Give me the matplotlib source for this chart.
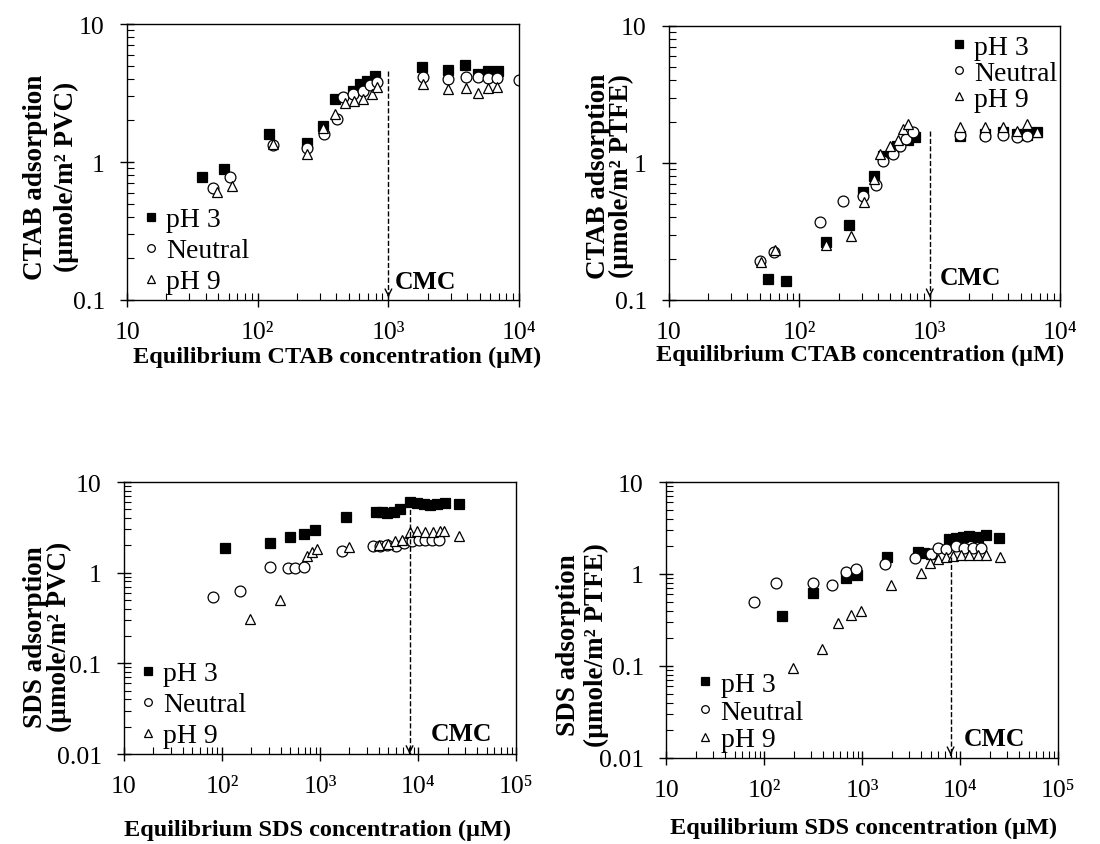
import matplotlib
matplotlib.use("Agg")
import matplotlib.pyplot as plt
from matplotlib.lines import Line2D
from matplotlib.ticker import LogLocator, NullFormatter

plt.rcParams['font.family'] = ['Liberation Serif', 'DejaVu Serif']

# ---------------- Data ----------------
# Panel A: CTAB on PVC
a_ph3_x = [37.7, 55, 123, 237, 314, 390, 538, 606, 682, 790, 1800, 2845, 3856, 4875, 5820, 6930]
a_ph3_y = [0.78, 0.89, 1.6, 1.37, 1.83, 2.86, 3.29, 3.67, 3.88, 4.22, 4.85, 4.64, 5.04, 4.35, 4.59, 4.59]
a_neu_x = [45.7, 61.4, 132, 237, 321, 402, 452, 538, 642, 723, 813, 1829, 2845, 3900, 4875, 5820, 6830, 10000]
a_neu_y = [0.644, 0.775, 1.33, 1.26, 1.6, 2.05, 2.94, 3.11, 3.29, 3.61, 3.78, 4.11, 4.0, 4.11, 4.11, 4.06, 4.06, 3.95]
a_ph9_x = [48.6, 64, 130, 240, 314, 390, 465, 548, 642, 745, 813, 1829, 2845, 3900, 4875, 5820, 6830]
a_ph9_y = [0.61, 0.67, 1.35, 1.14, 1.75, 2.23, 2.68, 2.78, 2.86, 3.11, 3.47, 3.67, 3.38, 3.44, 3.15, 3.44, 3.47]

# Panel B: CTAB on PTFE
b_ph3_x = [57.8, 78.5, 160, 240, 306, 374, 441, 560, 687, 773, 1710, 2660, 3680, 4660, 5560, 6640]
b_ph3_y = [0.142, 0.138, 0.264, 0.352, 0.61, 0.81, 1.13, 1.34, 1.46, 1.54, 1.58, 1.62, 1.67, 1.62, 1.6, 1.68]
b_neu_x = [49.9, 64, 144, 218, 306, 388, 441, 527, 593, 660, 750, 1710, 2660, 3680, 4660, 5560]
b_neu_y = [0.194, 0.223, 0.373, 0.525, 0.577, 0.69, 1.04, 1.16, 1.34, 1.50, 1.67, 1.6, 1.58, 1.6, 1.55, 1.58]
b_ph9_x = [50.4, 65, 160, 248, 314, 377, 416, 496, 575, 629, 687, 1710, 2660, 3680, 4660, 5560, 6640]
b_ph9_y = [0.19, 0.233, 0.252, 0.292, 0.516, 0.764, 1.16, 1.34, 1.46, 1.77, 1.93, 1.82, 1.82, 1.82, 1.7, 1.93, 1.67]

# Panel C: SDS on PVC
c_ph3_x = [108, 310, 497, 690, 894, 1850, 3750, 4290, 4820, 5640, 6590, 8340, 9770, 11400, 13400, 15600, 19000, 26000]
c_ph3_y = [1.86, 2.12, 2.49, 2.67, 2.98, 4.08, 4.71, 4.63, 4.55, 4.71, 5.04, 5.97, 5.82, 5.72, 5.57, 5.72, 5.86, 5.72]
c_neu_x = [80.5, 151, 310, 477, 558, 679, 1670, 3470, 4120, 4820, 6000, 7130, 8680, 10150, 11900, 13900, 16300]
c_neu_y = [0.535, 0.634, 1.16, 1.12, 1.12, 1.15, 1.75, 1.96, 1.99, 2.02, 1.99, 2.12, 2.25, 2.31, 2.31, 2.31, 2.31]
c_ph9_x = [194, 392, 745, 838, 942, 1955, 3960, 4900, 5870, 6860, 8340, 9770, 11900, 14100, 16900, 18300, 26000]
c_ph9_y = [0.309, 0.50, 1.52, 1.68, 1.82, 1.91, 2.02, 2.07, 2.25, 2.31, 2.83, 2.90, 2.83, 2.83, 2.90, 2.86, 2.52]

# Panel D: SDS on PTFE
d_ph3_x = [153, 318, 679, 881, 1815, 3730, 4300, 5040, 7740, 9070, 10630, 12400, 15100, 18400, 25200]
d_ph3_y = [0.346, 0.627, 0.906, 0.98, 1.53, 1.73, 1.70, 1.66, 2.38, 2.46, 2.52, 2.59, 2.52, 2.63, 2.46]
d_neu_x = [78.3, 133, 318, 497, 679, 859, 1700, 3450, 5040, 5900, 7180, 9070, 11000, 13500, 16400]
d_neu_y = [0.497, 0.798, 0.798, 0.766, 1.05, 1.12, 1.29, 1.50, 1.66, 1.92, 1.88, 2.0, 1.92, 1.92, 1.92]
d_ph9_x = [196, 386, 571, 764, 968, 1960, 3980, 4950, 5980, 7180, 8400, 10200, 12400, 15100, 18400, 25600]
d_ph9_y = [0.095, 0.154, 0.296, 0.355, 0.392, 0.766, 1.03, 1.32, 1.47, 1.53, 1.57, 1.60, 1.62, 1.62, 1.62, 1.53]

series_labels = ["pH 3", "Neutral", "pH 9"]

ctab_xlabels = ['10', '10²', '10³', '10⁴']
sds_xlabels = ['10', '10²', '10³', '10⁴', '10⁵']

# ---------------- Figure ----------------
fig = plt.figure(figsize=(11, 8.45), dpi=100)

panels = [
    dict(rect=[0.1155, 0.6438, 0.3564, 0.3266],
         data=[(a_ph3_x, a_ph3_y), (a_neu_x, a_neu_y), (a_ph9_x, a_ph9_y)],
         xlim=(10, 1e4), ylim=(0.1, 10),
         xticks=[10, 1e2, 1e3, 1e4], xlabels=ctab_xlabels,
         yticks=[0.1, 1, 10], ylabels=['0.1', '1', '10'],
         xlabel='Equilibrium CTAB concentration (µM)',
         ylabel='CTAB adsorption\n(µmole/m² PVC)', yls=1.3,
         xlc=(0.536, -0.203), ylc=(-0.194, 0.449),
         cmc=1000, cmc_top=4.6, cmc_text=(1122, 0.137),
         lsp=0.2,
         leg=dict(loc='lower left', bbox_to_anchor=(0.0, -0.02))),
    dict(rect=[0.6082, 0.6438, 0.3555, 0.3243],
         data=[(b_ph3_x, b_ph3_y), (b_neu_x, b_neu_y), (b_ph9_x, b_ph9_y)],
         xlim=(10, 1e4), ylim=(0.1, 10),
         xticks=[10, 1e2, 1e3, 1e4], xlabels=ctab_xlabels,
         yticks=[0.1, 1, 10], ylabels=['0.1', '1', '10'],
         xlabel='Equilibrium CTAB concentration (µM)',
         ylabel='CTAB adsorption\n(µmole/m² PTFE)', yls=0.9,
         xlc=(0.488, -0.197), ylc=(-0.151, 0.456),
         cmc=1000, cmc_top=1.72, cmc_text=(1200, 0.147),
         lsp=0.02,
         leg=dict(loc='upper left', bbox_to_anchor=(0.68, 1.01))),
    dict(rect=[0.1127, 0.1065, 0.3564, 0.3219],
         data=[(c_ph3_x, c_ph3_y), (c_neu_x, c_neu_y), (c_ph9_x, c_ph9_y)],
         xlim=(10, 1e5), ylim=(0.01, 10),
         xticks=[10, 1e2, 1e3, 1e4, 1e5], xlabels=sds_xlabels,
         yticks=[0.01, 0.1, 1, 10], ylabels=['0.01', '0.1', '1', '10'],
         xlabel='Equilibrium SDS concentration (µM)',
         ylabel='SDS adsorption\n(µmole/m² PVC)', yls=0.95,
         xlc=(0.495, -0.276), ylc=(-0.195, 0.434),
         cmc=8200, cmc_top=6.0, cmc_text=(13400, 0.0167),
         lsp=0.2,
         leg=dict(loc='lower left', bbox_to_anchor=(0.0, -0.02))),
    dict(rect=[0.6055, 0.1018, 0.3564, 0.3266],
         data=[(d_ph3_x, d_ph3_y), (d_neu_x, d_neu_y), (d_ph9_x, d_ph9_y)],
         xlim=(10, 1e5), ylim=(0.01, 10),
         xticks=[10, 1e2, 1e3, 1e4, 1e5], xlabels=sds_xlabels,
         yticks=[0.01, 0.1, 1, 10], ylabels=['0.01', '0.1', '1', '10'],
         xlabel='Equilibrium SDS concentration (µM)',
         ylabel='SDS adsorption\n(µmole/m² PTFE)', yls=1.15,
         xlc=(0.505, -0.25), ylc=(-0.214, 0.413),
         cmc=8000, cmc_top=1.54, cmc_text=(11000, 0.0162),
         lsp=0.08,
         leg=dict(loc='lower left', bbox_to_anchor=(0.04, -0.02))),
]

styles = [
    dict(marker='s', mfc='black', mec='black'),
    dict(marker='o', mfc='white', mec='black'),
    dict(marker='^', mfc='white', mec='black'),
]

for p in panels:
    ax = fig.add_axes(p['rect'])
    for (xs, ys), st, lab in zip(p['data'], styles, series_labels):
        ax.plot(xs, ys, ls='none', marker=st['marker'], mfc=st['mfc'], mec=st['mec'],
                ms=7.8, mew=0.9, label=lab)
    ax.set_xscale('log')
    ax.set_yscale('log')
    ax.set_xlim(*p['xlim'])
    ax.set_ylim(*p['ylim'])
    ax.set_xticks(p['xticks'])
    ax.set_xticklabels(p['xlabels'])
    ax.set_yticks(p['yticks'])
    ax.set_yticklabels(p['ylabels'])
    ax.xaxis.set_minor_locator(LogLocator(base=10, subs=range(2, 10), numticks=20))
    ax.yaxis.set_minor_locator(LogLocator(base=10, subs=range(2, 10), numticks=20))
    ax.xaxis.set_minor_formatter(NullFormatter())
    ax.yaxis.set_minor_formatter(NullFormatter())
    ax.tick_params(which='major', direction='inout', length=10, width=1, labelsize=18.5,
                   top=False, right=False)
    ax.tick_params(axis='x', which='major', pad=10)
    ax.tick_params(axis='y', which='major', pad=11)
    ax.tick_params(which='minor', direction='in', length=5, width=0.8, top=False, right=False)
    for sp in ax.spines.values():
        sp.set_linewidth(1.0)

    ax.set_xlabel(p['xlabel'], fontsize=17.5, fontweight='bold')
    ax.xaxis.label.set_va('center')
    ax.xaxis.set_label_coords(*p['xlc'])
    ax.set_ylabel(p['ylabel'], fontsize=19.5, fontweight='bold', linespacing=p['yls'])
    ax.yaxis.label.set_va('center')
    ax.yaxis.set_label_coords(*p['ylc'])

    # CMC marker
    ymin = p['ylim'][0]
    ax.plot([p['cmc'], p['cmc']], [p['cmc_top'], ymin], ls='--', color='black', lw=1)
    ax.annotate('', xy=(p['cmc'], ymin), xytext=(p['cmc'], ymin * 1.15),
                arrowprops=dict(arrowstyle='->', color='black', lw=1, mutation_scale=12))
    ax.text(p['cmc_text'][0], p['cmc_text'][1], 'CMC', fontsize=18.5, fontweight='bold',
            ha='left', va='center')

    handles = [Line2D([], [], ls='none', marker=st['marker'], mfc=st['mfc'], mec=st['mec'],
                      ms=5.5, mew=0.9) for st in styles]
    ax.legend(handles, series_labels, frameon=False, prop={'size': 20},
              handletextpad=0.1, labelspacing=p['lsp'], handlelength=0.9,
              borderaxespad=0.2, borderpad=0.2, **p['leg'])

fig.savefig('out.png', dpi=100)
